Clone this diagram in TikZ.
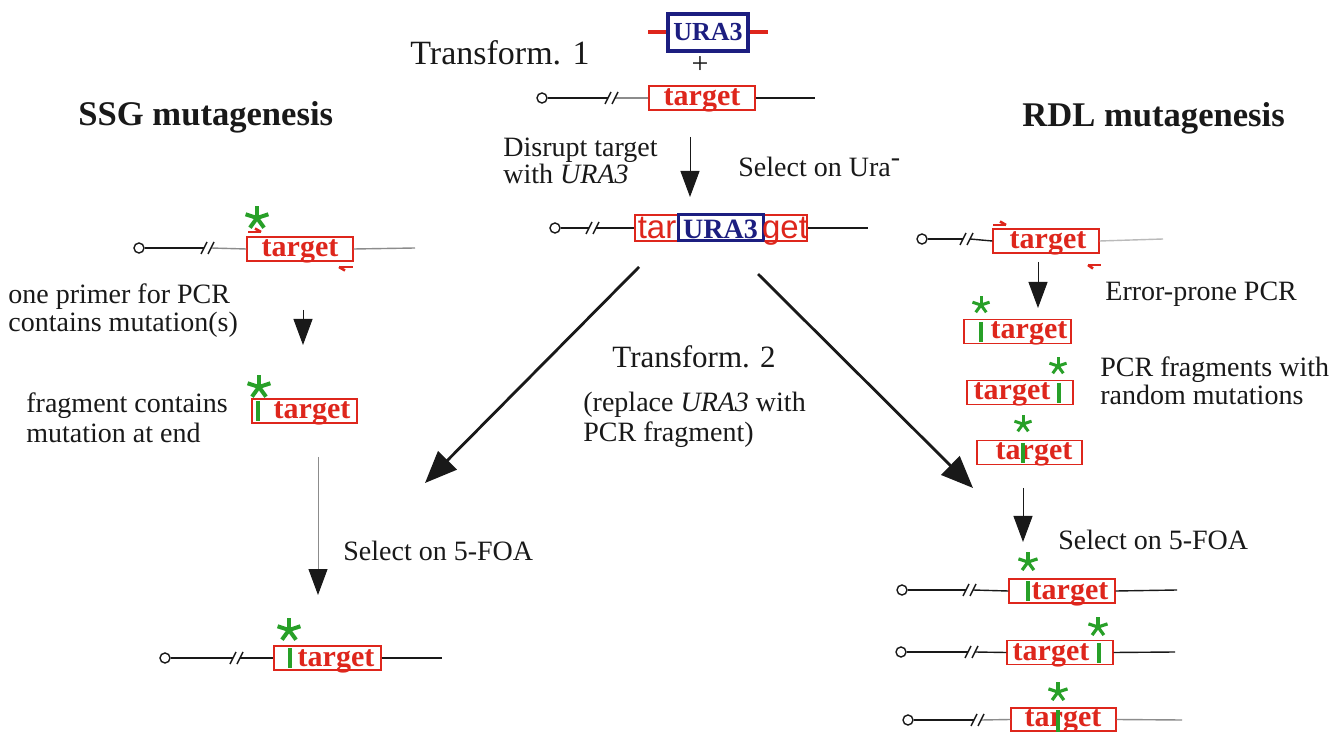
\documentclass[tikz,border=0pt]{standalone}
\usepackage{fontspec}
\setmainfont{Liberation Serif}
\newfontfamily\sansf{Liberation Sans}
\usetikzlibrary{arrows.meta,calc}
\definecolor{tred}{RGB}{222,38,28}
\definecolor{tgreen}{RGB}{40,160,40}
\definecolor{tnavy}{RGB}{28,30,128}
\definecolor{lgray}{RGB}{140,140,140}
\definecolor{ink}{RGB}{25,25,25}
\tikzset{
  lbl/.style={font=\fontsize{14}{16}\selectfont, anchor=base west, inner sep=0pt, text=ink},
  ttl/.style={font=\fontsize{17.3}{20}\selectfont\bfseries, anchor=base west, inner sep=0pt, text=ink},
  tbox/.style={draw=tred, line width=0.7pt, inner sep=0pt, minimum height=12pt},
  ttext/.style={font=\fontsize{15}{17}\selectfont\bfseries, text=tred, anchor=base, inner sep=0pt},
  dotn/.style={circle, draw=ink, line width=0.7pt, minimum size=5pt, inner sep=0pt},
  chr/.style={draw=ink, line width=0.7pt},
  gbar/.style={draw=tgreen, line width=1.6pt},
  primer/.style={draw=tred, line width=1.3pt},
  astl/.style={draw=tgreen, line width=1.5pt, line cap=butt},
  varr/.style={draw=ink, line width=0.5pt, -{Triangle[length=13pt,width=9.5pt,color=ink]}},
  darr/.style={draw=ink, line width=1.4pt, -{Triangle[length=16pt,width=13pt]}},
}
% chromosome: #1 prefix, #2 circle x, #3 y, #4 slash x, #5 box name, #6 end x, #7 colour after box, #8 colour before box
\newcommand\chromo[8]{%
  \node[dotn] (#1o) at (#2,#3) {};
  \coordinate (#1a) at (#4-4,#3);
  \coordinate (#1b) at (#4+3,#3);
  \coordinate (#1e) at (#6,#3);
  \draw[chr] (#1o) -- (#1a);
  \draw[chr,draw=#8] (#1b) -- (#5.west);
  \draw[chr,draw=#7] (#5.east) -- (#1e);
  \draw[chr] (#4-7,#3+6) -- (#4-1,#3-6);
  \draw[chr] (#4,#3+6) -- (#4+6,#3-6);
}
% asterisk: #1 x, #2 y, #3 radius, #4 line width
\newcommand\gast[4]{%
  \foreach \ang in {-90,-18,-162,54,126} {\draw[astl, line width=#4] (#1,#2) -- ++(\ang:#3);}
}
\begin{document}
\begin{tikzpicture}[x=0.5pt,y=-0.5pt]
\clip (0,0) rectangle (1339,732);
\fill[white] (0,0) rectangle (1339,732);

% ---------- top: URA3 cassette ----------
\draw[draw=tred, line width=2pt] (648,32) -- (768,32);
\node[draw=tnavy, line width=2pt, fill=white, minimum width=40pt, minimum height=18.5pt, inner sep=0pt,
      font=\fontsize{13}{15}\selectfont\bfseries, text=tnavy] (ura) at (708,32.5) {URA3};
\node[font=\fontsize{15}{17}\selectfont, text=ink, inner sep=0pt] (plus) at (700,65) {+};
\node[font=\fontsize{17}{20}\selectfont, anchor=base west, inner sep=0pt, text=ink] (tr1) at (410,65) {Transform. 1};

\node[tbox, minimum width=53pt] (b0) at (702,98) {};
\node[ttext] (b0t) at (702,106) {target};
\chromo{c0}{542}{98}{612}{b0}{815}{ink}{lgray}

\node[lbl] (dis1) at (503,157) {Disrupt target};
\node[lbl] (dis2) at (503,184) {with \textit{URA3}};
\node[lbl] (selura) at (738,177) {Select on Ura\textsuperscript{\fontsize{14}{16}\selectfont -}};
\coordinate (a1s) at (690,137);
\coordinate (a1e) at (690,197);
\draw[varr] (a1s) -- (a1e);

% disrupted target
\node[tbox, minimum width=86pt, minimum height=13pt] (bd) at (721,228) {};
\node[draw=tnavy, line width=1.5pt, minimum width=42.5pt, minimum height=13pt, inner sep=0pt] (bdu) at (720.5,228) {};
\node[font=\fontsize{14}{16}\selectfont\bfseries, text=tnavy, anchor=base, inner sep=0pt] (bdut) at (720.5,239) {URA3};
\node[font=\sansf\fontsize{16.5}{18}\selectfont, text=tred, anchor=base, inner sep=0pt] (tar) at (657,239) {tar};
\node[font=\sansf\fontsize{16.5}{18}\selectfont, text=tred, anchor=base, inner sep=0pt] (get) at (785,239) {get};
\chromo{cd}{555}{228}{593}{bd}{868}{ink}{ink}

% big diagonal arrows
\coordinate (dls) at (639,267);
\coordinate (dle) at (425,483);
\coordinate (drs) at (758,274);
\coordinate (dre) at (973,488);
\draw[darr] (dls) -- (dle);
\draw[darr] (drs) -- (dre);
\node[font=\fontsize{15.5}{18}\selectfont, anchor=base west, inner sep=0pt, text=ink] (tr2) at (612,368) {Transform. 2};
\node[lbl] (rep1) at (583,412) {(replace \textit{URA3} with};
\node[lbl] (rep2) at (583,442) {PCR fragment)};

% ---------- SSG ----------
\node[ttl] (ssg) at (78,126) {SSG mutagenesis};
\node[tbox, minimum width=53pt] (s1) at (300,249) {};
\node[ttext] (s1t) at (300,257) {target};
\chromo{cs1}{139}{248}{208}{s1}{415}{lgray}{lgray}
\draw[primer] (248,232) -- (261,232);
\draw[primer] (255,228.5) -- (261,232);
\draw[primer] (339,267) -- (353,267);
\draw[primer] (339,267) -- (345,270.5);
\gast{257}{218}{12}{2pt}

\node[lbl] (op1) at (8,304) {one primer for PCR};
\node[lbl] (op2) at (8,332) {contains mutation(s)};
\coordinate (s2s) at (303,310);
\coordinate (s2e) at (303,345);
\draw[varr] (s2s) -- (s2e);

\node[tbox, minimum width=52.5pt] (s2) at (304.5,411) {};
\node[ttext] (s2t) at (312,419) {target};
\draw[gbar] (258,401) -- (258,421);
\gast{259}{387}{12}{2pt}
\node[lbl] (fc1) at (26,413) {fragment contains};
\node[lbl] (fc2) at (26,443) {mutation at end};

\coordinate (s3s) at (318,457);
\coordinate (s3e) at (318,595);
\draw[varr, draw=lgray] (s3s) -- (s3e);
\node[lbl] (sf1) at (343,560) {Select on 5-FOA};

\node[tbox, minimum width=53.5pt] (s3) at (327.5,658) {};
\node[ttext] (s3t) at (336,666) {target};
\draw[gbar] (290,648) -- (290,668);
\gast{289}{630}{12}{2pt}
\chromo{cs3}{165}{658}{237}{s3}{442}{ink}{ink}

% ---------- RDL ----------
\node[ttl] (rdl) at (1022,127) {RDL mutagenesis};
\node[tbox, minimum width=53pt] (r1) at (1046,241) {};
\node[ttext] (r1t) at (1048,249) {target};
\chromo{cr1}{922}{239}{967}{r1}{1163}{lgray!60}{ink}
\draw[primer] (993,225) -- (1006,225);
\draw[primer] (1000,221.5) -- (1006,225);
\draw[primer] (1088,265) -- (1101,265);
\draw[primer] (1088,265) -- (1093,268.5);

\coordinate (r2s) at (1038,262);
\coordinate (r2e) at (1038,308);
\draw[varr] (r2s) -- (r2e);
\node[lbl] (epc) at (1105,301) {Error-prone PCR};

\node[tbox, minimum width=53.5pt] (f1) at (1017.5,331.5) {};
\node[ttext] (f1t) at (1029,339) {target};
\draw[gbar] (981,322) -- (981,342);
\gast{981}{305}{9}{1.5pt}

\node[tbox, minimum width=53pt] (f2) at (1020,392.5) {};
\node[ttext] (f2t) at (1012,400) {target};
\draw[gbar] (1059,383) -- (1059,403);
\gast{1058}{366}{9}{1.5pt}

\node[tbox, minimum width=52.5pt] (f3) at (1029.5,452.5) {};
\node[ttext] (f3t) at (1034,460) {target};
\draw[gbar] (1023,443) -- (1023,463);
\gast{1023}{424}{9}{1.5pt}

\node[lbl] (pf1) at (1100,377) {PCR fragments with};
\node[lbl] (pf2) at (1100,405) {random mutations};

\coordinate (r3s) at (1023,488);
\coordinate (r3e) at (1023,542);
\draw[varr] (r3s) -- (r3e);
\node[lbl] (sf2) at (1058,550) {Select on 5-FOA};

\node[tbox, minimum width=53pt] (g1) at (1062,591) {};
\node[ttext] (g1t) at (1070,599) {target};
\draw[gbar] (1028,581) -- (1028,601);
\gast{1028}{562}{10}{1.6pt}
\chromo{cg1}{902}{590}{970}{g1}{1177}{ink}{ink}

\node[tbox, minimum width=53pt] (g2) at (1060,652.5) {};
\node[ttext] (g2t) at (1051,660) {target};
\draw[gbar] (1099,643) -- (1099,663);
\gast{1098}{627}{10}{1.6pt}
\chromo{cg2}{901}{652}{972}{g2}{1175}{ink}{ink}

\node[tbox, minimum width=52.5pt, minimum height=11.5pt] (g3) at (1063.5,719.5) {};
\node[ttext] (g3t) at (1063,726) {target};
\draw[gbar] (1058,710) -- (1058,732);
\gast{1058}{692}{10}{1.6pt}
\chromo{cg3}{908}{720}{978}{g3}{1182}{lgray}{lgray}
\end{tikzpicture}
\end{document}
